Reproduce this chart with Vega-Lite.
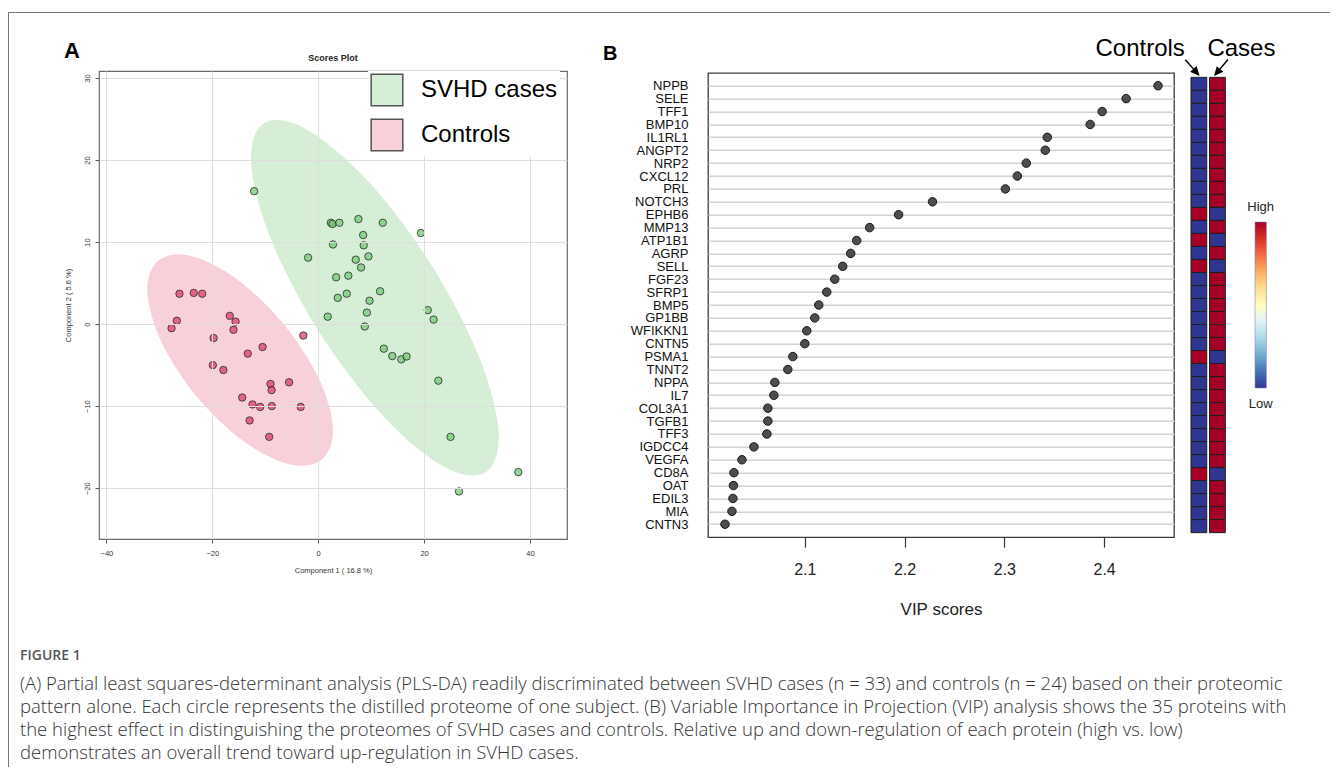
{
  "$schema": "https://vega.github.io/schema/vega-lite/v6.json",
  "padding": {"left": 8, "top": 12, "right": 0, "bottom": 0},
  "background": "white",
  "config": {"font": "Liberation Sans", "view": {"stroke": null}},
  "datasets": {
    "scores": [
      {"group": "SVHD cases", "c1": -12.1, "c2": 16.2},
      {"group": "SVHD cases", "c1": 2.4, "c2": 12.35},
      {"group": "SVHD cases", "c1": 2.7, "c2": 12.2},
      {"group": "SVHD cases", "c1": 4.0, "c2": 12.35},
      {"group": "SVHD cases", "c1": 7.6, "c2": 12.8},
      {"group": "SVHD cases", "c1": 12.2, "c2": 12.35},
      {"group": "SVHD cases", "c1": 19.4, "c2": 11.1},
      {"group": "SVHD cases", "c1": 8.5, "c2": 10.85},
      {"group": "SVHD cases", "c1": 2.8, "c2": 9.7},
      {"group": "SVHD cases", "c1": 8.6, "c2": 9.6},
      {"group": "SVHD cases", "c1": -1.9, "c2": 8.1},
      {"group": "SVHD cases", "c1": 7.1, "c2": 7.85},
      {"group": "SVHD cases", "c1": 9.5, "c2": 8.25},
      {"group": "SVHD cases", "c1": 8.1, "c2": 6.9},
      {"group": "SVHD cases", "c1": 3.4, "c2": 5.7},
      {"group": "SVHD cases", "c1": 5.7, "c2": 5.9},
      {"group": "SVHD cases", "c1": 5.4, "c2": 3.7},
      {"group": "SVHD cases", "c1": 11.7, "c2": 4.0},
      {"group": "SVHD cases", "c1": 3.7, "c2": 3.2},
      {"group": "SVHD cases", "c1": 9.7, "c2": 2.85},
      {"group": "SVHD cases", "c1": 20.7, "c2": 1.7},
      {"group": "SVHD cases", "c1": 9.2, "c2": 1.4},
      {"group": "SVHD cases", "c1": 1.8, "c2": 0.9},
      {"group": "SVHD cases", "c1": 21.8, "c2": 0.55},
      {"group": "SVHD cases", "c1": 8.8, "c2": -0.3},
      {"group": "SVHD cases", "c1": 12.4, "c2": -3.0},
      {"group": "SVHD cases", "c1": 14.0, "c2": -3.9},
      {"group": "SVHD cases", "c1": 15.7, "c2": -4.3},
      {"group": "SVHD cases", "c1": 16.7, "c2": -3.95},
      {"group": "SVHD cases", "c1": 22.7, "c2": -6.9},
      {"group": "SVHD cases", "c1": 25.0, "c2": -13.75},
      {"group": "SVHD cases", "c1": 37.8, "c2": -18.05},
      {"group": "SVHD cases", "c1": 26.6, "c2": -20.4},
      {"group": "Controls", "c1": -26.2, "c2": 3.7},
      {"group": "Controls", "c1": -23.5, "c2": 3.8},
      {"group": "Controls", "c1": -21.9, "c2": 3.7},
      {"group": "Controls", "c1": -26.7, "c2": 0.4},
      {"group": "Controls", "c1": -27.7, "c2": -0.5},
      {"group": "Controls", "c1": -16.7, "c2": 1.0},
      {"group": "Controls", "c1": -15.6, "c2": 0.3},
      {"group": "Controls", "c1": -19.75, "c2": -1.7},
      {"group": "Controls", "c1": -2.8, "c2": -1.4},
      {"group": "Controls", "c1": -16.0, "c2": -0.7},
      {"group": "Controls", "c1": -10.5, "c2": -2.8},
      {"group": "Controls", "c1": -13.3, "c2": -3.6},
      {"group": "Controls", "c1": -19.9, "c2": -5.0},
      {"group": "Controls", "c1": -17.9, "c2": -5.6},
      {"group": "Controls", "c1": -9.0, "c2": -7.3},
      {"group": "Controls", "c1": -5.5, "c2": -7.1},
      {"group": "Controls", "c1": -8.8, "c2": -8.05},
      {"group": "Controls", "c1": -14.35, "c2": -8.95},
      {"group": "Controls", "c1": -12.4, "c2": -9.8},
      {"group": "Controls", "c1": -10.95, "c2": -10.1},
      {"group": "Controls", "c1": -8.75, "c2": -10.0},
      {"group": "Controls", "c1": -3.3, "c2": -10.1},
      {"group": "Controls", "c1": -12.95, "c2": -11.75},
      {"group": "Controls", "c1": -9.25, "c2": -13.75}
    ],
    "ellipse": [
      {"group": "SVHD cases", "idx": 0, "c1": 31.67, "c2": -18.05},
      {"group": "SVHD cases", "idx": 1, "c1": 23.66, "c2": -17.35},
      {"group": "SVHD cases", "idx": 2, "c1": 12.18, "c2": -11.13},
      {"group": "SVHD cases", "idx": 3, "c1": 0.30, "c2": -1.08},
      {"group": "SVHD cases", "idx": 4, "c1": -8.79, "c2": 10.13},
      {"group": "SVHD cases", "idx": 5, "c1": -12.66, "c2": 19.48},
      {"group": "SVHD cases", "idx": 6, "c1": -10.26, "c2": 24.47},
      {"group": "SVHD cases", "idx": 7, "c1": -2.25, "c2": 23.76},
      {"group": "SVHD cases", "idx": 8, "c1": 9.24, "c2": 17.55},
      {"group": "SVHD cases", "idx": 9, "c1": 21.12, "c2": 7.49},
      {"group": "SVHD cases", "idx": 10, "c1": 30.21, "c2": -3.71},
      {"group": "SVHD cases", "idx": 11, "c1": 34.07, "c2": -13.06},
      {"group": "Controls", "idx": 0, "c1": 0.73, "c2": -16.51},
      {"group": "Controls", "idx": 1, "c1": -5.46, "c2": -17.09},
      {"group": "Controls", "idx": 2, "c1": -14.14, "c2": -14.26},
      {"group": "Controls", "idx": 3, "c1": -22.99, "c2": -8.79},
      {"group": "Controls", "idx": 4, "c1": -29.62, "c2": -2.14},
      {"group": "Controls", "idx": 5, "c1": -32.27, "c2": 3.90},
      {"group": "Controls", "idx": 6, "c1": -30.22, "c2": 7.72},
      {"group": "Controls", "idx": 7, "c1": -24.03, "c2": 8.29},
      {"group": "Controls", "idx": 8, "c1": -15.35, "c2": 5.46},
      {"group": "Controls", "idx": 9, "c1": -6.51, "c2": -0.01},
      {"group": "Controls", "idx": 10, "c1": 0.13, "c2": -6.65},
      {"group": "Controls", "idx": 11, "c1": 2.78, "c2": -12.70}
    ],
    "proteins": [
      {"protein": "NPPB", "vip": 2.454, "Controls": "Low", "Cases": "High"},
      {"protein": "SELE", "vip": 2.422, "Controls": "Low", "Cases": "High"},
      {"protein": "TFF1", "vip": 2.398, "Controls": "Low", "Cases": "High"},
      {"protein": "BMP10", "vip": 2.386, "Controls": "Low", "Cases": "High"},
      {"protein": "IL1RL1", "vip": 2.343, "Controls": "Low", "Cases": "High"},
      {"protein": "ANGPT2", "vip": 2.341, "Controls": "Low", "Cases": "High"},
      {"protein": "NRP2", "vip": 2.322, "Controls": "Low", "Cases": "High"},
      {"protein": "CXCL12", "vip": 2.313, "Controls": "Low", "Cases": "High"},
      {"protein": "PRL", "vip": 2.301, "Controls": "Low", "Cases": "High"},
      {"protein": "NOTCH3", "vip": 2.228, "Controls": "Low", "Cases": "High"},
      {"protein": "EPHB6", "vip": 2.194, "Controls": "High", "Cases": "Low"},
      {"protein": "MMP13", "vip": 2.165, "Controls": "Low", "Cases": "High"},
      {"protein": "ATP1B1", "vip": 2.152, "Controls": "High", "Cases": "Low"},
      {"protein": "AGRP", "vip": 2.146, "Controls": "Low", "Cases": "High"},
      {"protein": "SELL", "vip": 2.138, "Controls": "High", "Cases": "Low"},
      {"protein": "FGF23", "vip": 2.130, "Controls": "Low", "Cases": "High"},
      {"protein": "SFRP1", "vip": 2.122, "Controls": "Low", "Cases": "High"},
      {"protein": "BMP5", "vip": 2.114, "Controls": "Low", "Cases": "High"},
      {"protein": "GP1BB", "vip": 2.110, "Controls": "Low", "Cases": "High"},
      {"protein": "WFIKKN1", "vip": 2.102, "Controls": "Low", "Cases": "High"},
      {"protein": "CNTN5", "vip": 2.100, "Controls": "Low", "Cases": "High"},
      {"protein": "PSMA1", "vip": 2.088, "Controls": "High", "Cases": "Low"},
      {"protein": "TNNT2", "vip": 2.083, "Controls": "Low", "Cases": "High"},
      {"protein": "NPPA", "vip": 2.070, "Controls": "Low", "Cases": "High"},
      {"protein": "IL7", "vip": 2.069, "Controls": "Low", "Cases": "High"},
      {"protein": "COL3A1", "vip": 2.063, "Controls": "Low", "Cases": "High"},
      {"protein": "TGFB1", "vip": 2.063, "Controls": "Low", "Cases": "High"},
      {"protein": "TFF3", "vip": 2.062, "Controls": "Low", "Cases": "High"},
      {"protein": "IGDCC4", "vip": 2.049, "Controls": "Low", "Cases": "High"},
      {"protein": "VEGFA", "vip": 2.037, "Controls": "Low", "Cases": "High"},
      {"protein": "CD8A", "vip": 2.029, "Controls": "High", "Cases": "Low"},
      {"protein": "OAT", "vip": 2.0285, "Controls": "Low", "Cases": "High"},
      {"protein": "EDIL3", "vip": 2.028, "Controls": "Low", "Cases": "High"},
      {"protein": "MIA", "vip": 2.027, "Controls": "Low", "Cases": "High"},
      {"protein": "CNTN3", "vip": 2.020, "Controls": "Low", "Cases": "High"}
    ],
    "caption": [
      {"line": 1, "text": "(A) Partial least squares-determinant analysis (PLS-DA) readily discriminated between SVHD cases (n = 33) and controls (n = 24) based on their proteomic"},
      {"line": 2, "text": "pattern alone. Each circle represents the distilled proteome of one subject. (B) Variable Importance in Projection (VIP) analysis shows the 35 proteins with"},
      {"line": 3, "text": "the highest effect in distinguishing the proteomes of SVHD cases and controls. Relative up and down-regulation of each protein (high vs. low)"},
      {"line": 4, "text": "demonstrates an overall trend toward up-regulation in SVHD cases."}
    ]
  },
  "spacing": 0,
  "hconcat": [
    {
      "width": 1, "height": 755,
      "data": {"values": []},
      "mark": "point",
      "view": {"fill": "#777777", "stroke": null}
    },
    {
      "spacing": 0,
      "vconcat": [
        {
          "width": 1321, "height": 1,
          "data": {"values": []},
          "mark": "point",
          "view": {"fill": "#777777", "stroke": null}
        },
        {"width": 1, "height": 23, "data": {"values": []}, "mark": "point"},
        {
          "spacing": 0,
          "bounds": "flush",
          "center": true,
          "resolve": {"scale": {"color": "independent", "fill": "independent"}, "legend": {"color": "independent", "fill": "independent"}},
          "hconcat": [
            {
              "width": 90, "height": 468,
              "data": {"values": []},
              "mark": "point",
              "title": {"text": "A", "anchor": "end", "dx": -19, "fontSize": 22, "fontWeight": "bold", "color": "#000000", "offset": 8}
            },
            {
              "width": 468, "height": 468,
              "view": {"stroke": "#6b6b6b", "strokeWidth": 1.2},
              "title": {"text": "Scores Plot", "fontSize": 9, "fontWeight": "bold", "color": "#222222", "offset": 8},
              "layer": [
                {
                  "data": {"name": "ellipse"},
                  "mark": {"type": "line", "interpolate": "cardinal-closed", "strokeWidth": 0, "strokeOpacity": 0},
                  "encoding": {
                    "x": {"field": "c1", "type": "quantitative", "scale": {"domain": [-41.4, 47.0], "nice": false, "zero": false},
                      "axis": {"values": [-40, -20, 0, 20, 40], "grid": true, "gridColor": "#dedede", "zindex": 1, "domain": false, "tickColor": "#555555", "tickSize": 4, "labelFontSize": 7.5, "labelColor": "#333333", "labelPadding": 6, "title": "Component 1 ( 16.8 %)", "titleFontSize": 7.5, "titleFontWeight": "normal", "titleColor": "#333333", "titlePadding": 10}},
                    "y": {"field": "c2", "type": "quantitative", "scale": {"domain": [-26.2, 30.85], "nice": false, "zero": false},
                      "axis": {"values": [-20, -10, 0, 10, 20, 30], "grid": true, "gridColor": "#dedede", "zindex": 1, "domain": false, "tickColor": "#555555", "tickSize": 4, "labelFontSize": 7.5, "labelColor": "#333333", "labelAngle": -90, "labelAlign": "center", "labelBaseline": "bottom", "labelPadding": 4, "title": "Component 2 ( 5.6 %)", "titleFontSize": 7.5, "titleFontWeight": "normal", "titleColor": "#333333", "titlePadding": 11}},
                    "fill": {"field": "group", "type": "nominal", "scale": {"domain": ["SVHD cases", "Controls"], "range": ["#d6eed6", "#f8d0da"]},
                      "legend": {"orient": "none", "legendX": 269, "legendY": 0, "title": null, "symbolType": "square", "symbolSize": 1000, "symbolStrokeColor": "#555555", "symbolStrokeWidth": 1.5, "symbolOpacity": 1, "labelFontSize": 24, "labelColor": "#000000", "labelOffset": 17, "rowPadding": 7, "padding": 2, "fillColor": "white", "zindex": 2}},
                    "detail": {"field": "group"},
                    "order": {"field": "idx", "type": "quantitative"}
                  }
                },
                {
                  "data": {"name": "scores"},
                  "mark": {"type": "point", "filled": true, "size": 55, "opacity": 1, "fillOpacity": 0.75, "stroke": "#2a2a2a", "strokeWidth": 0.8},
                  "encoding": {
                    "x": {"field": "c1", "type": "quantitative"},
                    "y": {"field": "c2", "type": "quantitative"},
                    "color": {"field": "group", "type": "nominal", "scale": {"domain": ["SVHD cases", "Controls"], "range": ["#74c874", "#dd3f66"]}, "legend": null}
                  }
                }
              ]
            },
            {
              "width": 141, "height": 468,
              "data": {"values": []},
              "mark": "point",
              "title": {"text": "B", "anchor": "start", "dx": 36, "fontSize": 20, "fontWeight": "bold", "color": "#000000", "offset": 7}
            },
            {
              "width": 466, "height": 464.3,
              "view": {"stroke": "#3a3a3a", "strokeWidth": 1.3},
              "data": {"name": "proteins"},
              "mark": {"type": "point", "filled": true, "size": 72, "color": "#4d4d4d", "stroke": "#1a1a1a", "strokeWidth": 1, "opacity": 1},
              "encoding": {
                "x": {"field": "vip", "type": "quantitative", "scale": {"domain": [2.003, 2.47], "nice": false, "zero": false},
                  "axis": {"values": [2.1, 2.2, 2.3, 2.4], "format": ".1f", "grid": false, "domain": false, "tickSize": 10, "tickColor": "#333333", "tickWidth": 1.2, "labelFontSize": 16, "labelColor": "#222222", "labelPadding": 14, "title": "VIP scores", "titleFontSize": 17, "titleFontWeight": "normal", "titleColor": "#222222", "titlePadding": 24}},
                "y": {"field": "protein", "type": "nominal", "sort": null, "scale": {"type": "point", "padding": 1},
                  "axis": {"title": null, "domain": false, "ticks": false, "labelFontSize": 13, "labelColor": "#111111", "labelPadding": 20, "grid": true, "gridColor": "#d2d2d2", "gridWidth": 1.5}}
              }
            },
            {"width": 16.7, "height": 1, "data": {"values": []}, "mark": "point"},
            {
              "width": 34.3, "height": 455.3,
              "data": {"name": "proteins"},
              "transform": [{"fold": ["Controls", "Cases"], "as": ["group", "level"]}],
              "encoding": {
                "x": {"field": "group", "type": "nominal", "scale": {"domain": ["Controls", "Cases"], "paddingInner": 0.15, "paddingOuter": 0},
                  "axis": {"orient": "top", "title": null, "domain": false, "ticks": false, "labelAngle": 0, "labelFontSize": 24, "labelColor": "#000000", "labelPadding": 17, "labelOverlap": false, "labelLimit": 0,
                    "labelAlign": {"condition": {"test": "datum.value === 'Controls'", "value": "right"}, "value": "left"},
                    "labelOffset": {"condition": {"test": "datum.value === 'Controls'", "value": -14}, "value": -10}}},
                "y": {"field": "protein", "type": "nominal", "sort": null, "scale": {"paddingInner": 0, "paddingOuter": 0}, "axis": null}
              },
              "layer": [
                {
                  "mark": {"type": "rect", "stroke": "#1e1e1e", "strokeWidth": 1},
                  "encoding": {
                    "color": {"field": "level", "type": "nominal", "scale": {"domain": ["High", "Low"], "range": ["#a50026", "#2f3593"]}, "legend": null}
                  }
                },
                {
                  "transform": [{"filter": "datum.protein === 'NPPB' && datum.group === 'Controls'"}],
                  "mark": {"type": "point", "shape": "M0,-1L0,0.4M-0.32,0.3L0,1L0.32,0.3Z", "size": 400, "angle": -41.6, "filled": true, "color": "#000000", "stroke": "#000000", "strokeWidth": 1.4, "opacity": 1, "xOffset": -7, "yOffset": -16.7}
                },
                {
                  "transform": [{"filter": "datum.protein === 'NPPB' && datum.group === 'Cases'"}],
                  "mark": {"type": "point", "shape": "M0,-1L0,0.4M-0.32,0.3L0,1L0.32,0.3Z", "size": 400, "angle": 40, "filled": true, "color": "#000000", "stroke": "#000000", "strokeWidth": 1.4, "opacity": 1, "xOffset": 4.1, "yOffset": -16.7}
                }
              ]
            },
            {"width": 29, "height": 1, "data": {"values": []}, "mark": "point"},
            {
              "width": 11.4, "height": 166,
              "data": {"values": [{"lab": "Low"}]},
              "title": {"text": "High", "fontSize": 13, "fontWeight": "normal", "color": "#222222", "offset": 8, "anchor": "middle"},
              "mark": {"type": "rect", "strokeWidth": 0.6, "stroke": "#8c86b3",
                "fill": {"gradient": "linear", "x1": 0, "y1": 1, "x2": 0, "y2": 0, "stops": [
                  {"offset": 0, "color": "#313695"}, {"offset": 0.1, "color": "#4575b4"}, {"offset": 0.2, "color": "#74add1"},
                  {"offset": 0.3, "color": "#abd9e9"}, {"offset": 0.4, "color": "#e0f3f8"}, {"offset": 0.5, "color": "#ffffbf"},
                  {"offset": 0.6, "color": "#fee090"}, {"offset": 0.7, "color": "#fdae61"}, {"offset": 0.8, "color": "#f46d43"},
                  {"offset": 0.9, "color": "#d73027"}, {"offset": 1, "color": "#a50026"}]}},
              "encoding": {
                "x": {"field": "lab", "type": "nominal", "scale": {"paddingInner": 0, "paddingOuter": 0},
                  "axis": {"title": null, "domain": false, "ticks": false, "labelAngle": 0, "labelFontSize": 13, "labelColor": "#222222", "labelPadding": 9}}
              }
            }
          ]
        },
        {"width": 1, "height": 31, "data": {"values": []}, "mark": "point"},
        {
          "width": 1290, "height": 92,
          "data": {"name": "caption"},
          "title": {"text": "FIGURE 1", "anchor": "start", "dx": 11, "fontSize": 14, "fontWeight": 600, "color": "#555555", "font": "Open Sans", "offset": 9},
          "mark": {"type": "text", "align": "left", "baseline": "middle", "dx": 11, "fontSize": 18.5, "font": "Open Sans", "fontWeight": 300, "color": "#333333"},
          "encoding": {
            "y": {"field": "line", "type": "ordinal", "scale": {"type": "point", "padding": 0.5}, "axis": null},
            "x": {"value": 0},
            "text": {"field": "text"}
          }
        }
      ]
    }
  ]
}
